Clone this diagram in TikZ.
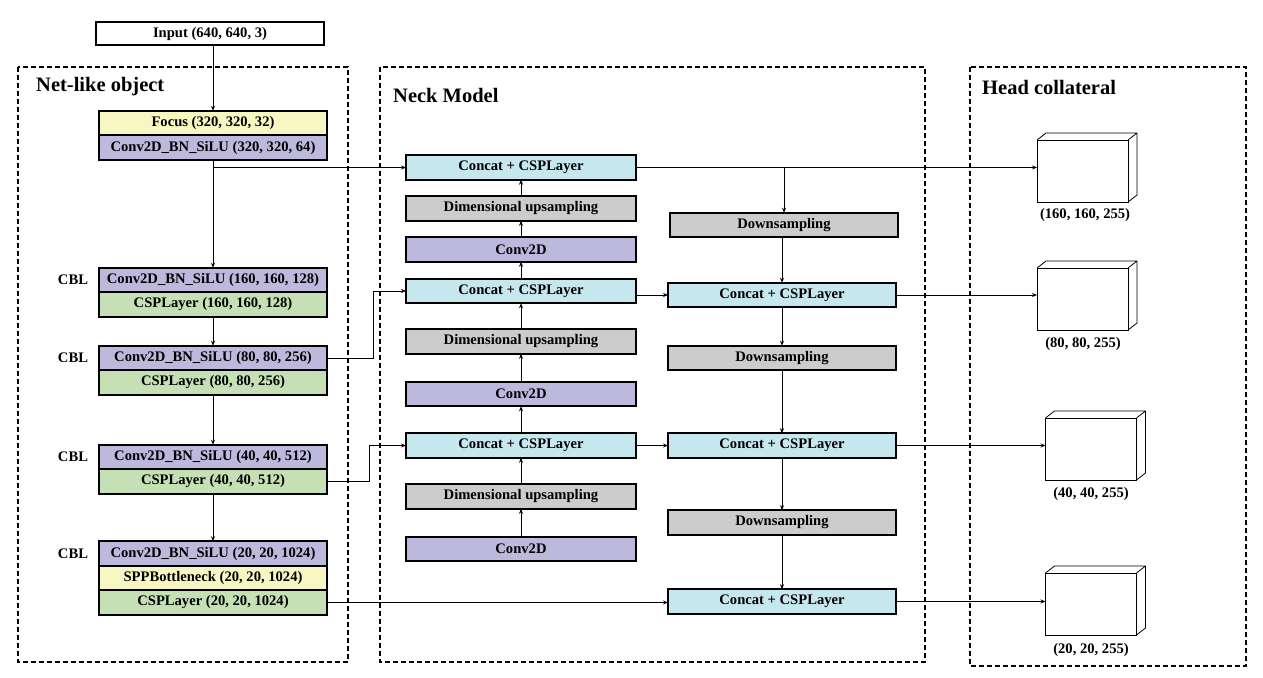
\documentclass[tikz,border=0pt]{standalone}
\usepackage{fontspec}
\setmainfont{Liberation Serif}
\usetikzlibrary{arrows.meta}
\definecolor{focusyel}{HTML}{F8F6C2}
\definecolor{cblpurp}{HTML}{BDB9DD}
\definecolor{cspgreen}{HTML}{C4E0B4}
\definecolor{concatcyan}{HTML}{C6E7EE}
\definecolor{sampgray}{HTML}{CCCCCC}
\begin{document}
\begin{tikzpicture}[x=1pt,y=-1pt,
    box/.style={draw,line width=1.8pt,outer sep=0pt,inner sep=0pt,minimum width=228pt,minimum height=24.5pt,font=\bfseries\fontsize{14.6}{16}\selectfont},
    nbox/.style={box,minimum width=230pt},
    cube/.style={draw,line width=.8pt,minimum width=91pt,minimum height=62pt,inner sep=0pt,outer sep=0pt},
    lbl/.style={font=\bfseries\fontsize{14.6}{16}\selectfont},
    title/.style={anchor=west,inner sep=0pt,font=\bfseries\fontsize{20.5}{22}\selectfont},
    grp/.style={draw,line width=1.4pt,dash pattern=on 5pt off 3pt},
    arr/.style={-{Stealth[length=5pt,width=4pt]},line width=.8pt}]
  \useasboundingbox (0,0) rectangle (1263,677);
  % frames
  \draw[grp] (18,67) rectangle (348,662);
  \draw[grp] (380,67) rectangle (925,662);
  \draw[grp] (970,67) rectangle (1246,666);
  \node[title] (tnet) at (36,87) {Net-like object};
  \node[title] (tneck) at (393,95) {Neck Model};
  \node[title] (thead) at (982,87) {Head collateral};
  % backbone
  \node[box,line width=2pt,minimum height=23pt] (inp) at (210,33.5) {Input (640, 640, 3)};
  \node[box,fill=focusyel] (focus) at (213,123) {Focus (320, 320, 32)};
  \node[box,fill=cblpurp] (conv1) at (213,147.5) {Conv2D\_BN\_SiLU (320, 320, 64)};
  \node[box,fill=cblpurp] (cbl2) at (213,280) {Conv2D\_BN\_SiLU (160, 160, 128)};
  \node[box,fill=cspgreen] (csp2) at (213,304.5) {CSPLayer (160, 160, 128)};
  \node[box,fill=cblpurp] (cbl3) at (213,358) {Conv2D\_BN\_SiLU (80, 80, 256)};
  \node[box,fill=cspgreen] (csp3) at (213,382.5) {CSPLayer (80, 80, 256)};
  \node[box,fill=cblpurp] (cbl4) at (213,457) {Conv2D\_BN\_SiLU (40, 40, 512)};
  \node[box,fill=cspgreen] (csp4) at (213,481.5) {CSPLayer (40, 40, 512)};
  \node[box,fill=cblpurp] (cbl5) at (213,553.5) {Conv2D\_BN\_SiLU (20, 20, 1024)};
  \node[box,fill=focusyel] (spp) at (213,578) {SPPBottleneck (20, 20, 1024)};
  \node[box,fill=cspgreen] (csp5) at (213,602.5) {CSPLayer (20, 20, 1024)};
  \foreach \n/\y in {c2/280,c3/358,c4/457,c5/553.5}
    \node[lbl] (lbl\n) at (73,\y) {CBL};
  % neck, up path
  \node[nbox,fill=concatcyan] (lc1) at (521,167.5) {Concat + CSPLayer};
  \node[nbox,fill=sampgray] (lu1) at (521,208.5) {Dimensional upsampling};
  \node[nbox,fill=cblpurp] (lv1) at (521,249.5) {Conv2D};
  \node[nbox,fill=concatcyan] (lc2) at (521,291) {Concat + CSPLayer};
  \node[nbox,fill=sampgray] (lu2) at (521,341.5) {Dimensional upsampling};
  \node[nbox,fill=cblpurp] (lv2) at (521,394) {Conv2D};
  \node[nbox,fill=concatcyan] (lc3) at (521,445.5) {Concat + CSPLayer};
  \node[nbox,fill=sampgray] (lu3) at (521,496.5) {Dimensional upsampling};
  \node[nbox,fill=cblpurp] (lv3) at (521,549) {Conv2D};
  % neck, down path
  \node[box,fill=sampgray] (rd1) at (784,225) {Downsampling};
  \node[box,fill=concatcyan] (rc1) at (782,295) {Concat + CSPLayer};
  \node[box,fill=sampgray] (rd2) at (782,358) {Downsampling};
  \node[box,fill=concatcyan] (rc2) at (782,445.5) {Concat + CSPLayer};
  \node[box,fill=sampgray] (rd3) at (782,522.5) {Downsampling};
  \node[box,fill=concatcyan] (rc3) at (782,601.5) {Concat + CSPLayer};
  % head
  \node[cube] (h1) at (1082.5,171) {};
  \node[cube] (h2) at (1082.5,299) {};
  \node[cube] (h3) at (1091,449) {};
  \node[cube] (h4) at (1091,604) {};
  \foreach \c in {h1,h2,h3,h4}
    \draw[line width=.8pt] (\c.north west) -- ++(9,-7) -- ++(91,0) -- ++(0,62) -- ++(-9,7)
      (\c.north east) -- ++(9,-7);
  \node[lbl] (s1) at (1085,215) {(160, 160, 255)};
  \node[lbl] (s2) at (1083,344) {(80, 80, 255)};
  \node[lbl] (s3) at (1091,494) {(40, 40, 255)};
  \node[lbl] (s4) at (1091,650) {(20, 20, 255)};
  % connectors
  \draw[arr] (inp.south -| focus.north) -- (focus.north);
  \foreach \a/\b in {conv1/cbl2,csp2/cbl3,csp3/cbl4,csp4/cbl5}
    \draw[arr] (\a) -- (\b);
  \draw[arr] (conv1.south |- lc1.west) -- (lc1.west);
  \draw[arr] (cbl3.east) -- ++(46,0) |- (lc2.west);
  \draw[arr] (csp4.east) -- ++(42,0) |- (lc3.west);
  \draw[arr] (csp5.east) -- (csp5.east -| rc3.west);
  \foreach \a/\b in {lv3/lu3,lu3/lc3,lc3/lv2,lv2/lu2,lu2/lc2,lc2/lv1,lv1/lu1,lu1/lc1}
    \draw[arr] (\a) -- (\b);
  \draw[arr] (rd1.north |- lc1.east) -- (rd1.north);
  \draw[arr] (rd1.south -| rc1.north) -- (rc1.north);
  \foreach \a/\b in {rc1/rd2,rd2/rc2,rc2/rd3,rd3/rc3}
    \draw[arr] (\a) -- (\b);
  \draw[arr] (lc2.east |- rc1.west) -- (rc1.west);
  \draw[arr] (lc3) -- (rc2);
  \draw[arr] (lc1.east) -- (lc1.east -| h1.west);
  \draw[arr] (rc1.east) -- (rc1.east -| h2.west);
  \draw[arr] (rc2.east) -- (rc2.east -| h3.west);
  \draw[arr] (rc3.east) -- (rc3.east -| h4.west);
\end{tikzpicture}
\end{document}
